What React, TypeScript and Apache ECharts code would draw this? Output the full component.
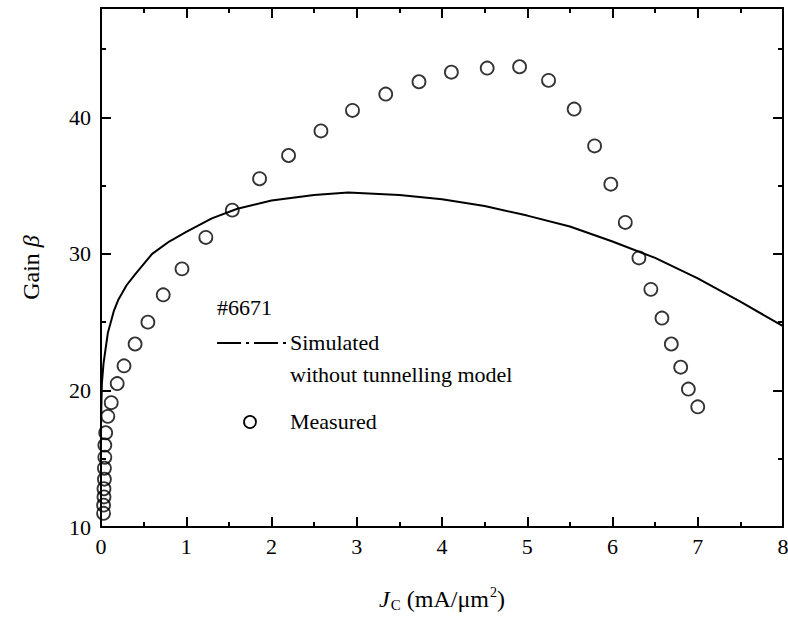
import React, { useEffect, useRef } from "react";
import * as echarts from "echarts";

const measuredX = [0.03, 0.03, 0.035, 0.035, 0.04, 0.04, 0.045, 0.045, 0.055, 0.08, 0.12, 0.19, 0.27, 0.4, 0.55, 0.73, 0.95, 1.23, 1.54, 1.86, 2.2, 2.58, 2.95, 3.34, 3.73, 4.11, 4.53, 4.91, 5.25, 5.55, 5.79, 5.98, 6.15, 6.31, 6.45, 6.58, 6.69, 6.8, 6.89, 7.0];
const measuredY = [11.0, 11.6, 12.2, 12.8, 13.5, 14.3, 15.1, 16.0, 16.9, 18.1, 19.1, 20.5, 21.8, 23.4, 25.0, 27.0, 28.9, 31.2, 33.2, 35.5, 37.2, 39.0, 40.5, 41.7, 42.6, 43.3, 43.6, 43.7, 42.7, 40.6, 37.9, 35.1, 32.3, 29.7, 27.4, 25.3, 23.4, 21.7, 20.1, 18.8];

const simX = [0.0, 0.01, 0.03, 0.08, 0.15, 0.2, 0.3, 0.4, 0.6, 0.8, 1.0, 1.3, 1.6, 2.0, 2.5, 2.9, 3.5, 4.0, 4.5, 5.0, 5.5, 6.0, 6.5, 7.0, 7.5, 8.0];
const simY = [17.5, 20.5, 22.0, 24.2, 25.8, 26.6, 27.7, 28.5, 30.0, 30.9, 31.6, 32.6, 33.3, 33.9, 34.3, 34.5, 34.3, 34.0, 33.5, 32.8, 32.0, 30.9, 29.7, 28.2, 26.5, 24.7];

const xMin = 0, xMax = 8, xStep = 1;
const yMin = 10, yMax = 48, yMajor = 10, yMinor = 5;

const FONT = "Liberation Serif";

export default function App() {
  const ref = useRef<HTMLDivElement>(null);
  useEffect(() => {
    if (!ref.current) return;
    const chart = echarts.init(ref.current, null, { renderer: "svg" });
    const lineStyle = { color: "#000", width: 2 };
    const baseY = (position: string, interval: number, len: number, labels: boolean, showLine: boolean) => ({
      type: "value",
      position,
      min: yMin,
      max: yMax,
      interval,
      axisLine: { show: showLine, lineStyle },
      axisTick: { show: true, inside: true, length: len, lineStyle },
      splitLine: { show: false },
      axisLabel: labels
        ? {
            show: true,
            fontFamily: FONT,
            fontSize: 22,
            color: "#000",
            margin: 10,
            formatter: (v: number) => (v % yMajor === 0 ? String(v) : ""),
          }
        : { show: false },
    });
    const option: any = {
      animation: false,
      backgroundColor: "#fff",
      grid: { left: 101, right: 5, top: 8, bottom: 106, outerBoundsMode: "none" },
      xAxis: [
        {
          type: "value",
          position: "bottom",
          min: xMin,
          max: xMax,
          interval: xStep,
          axisLine: { show: true, lineStyle },
          axisTick: { show: true, inside: true, length: 10, lineStyle },
          minorTick: { show: true, splitNumber: 2, length: 5, lineStyle },
          splitLine: { show: false },
          axisLabel: { fontFamily: FONT, fontSize: 22, color: "#000", margin: 8 },
          name: "{i|J}{sub|C}{n| (mA/μm}{sup|2}{n|)}",
          nameLocation: "middle",
          nameGap: 58,
          nameTextStyle: {
            rich: {
              i: { fontFamily: FONT, fontSize: 24, fontStyle: "italic", color: "#000" },
              n: { fontFamily: FONT, fontSize: 24, color: "#000" },
              sub: { fontFamily: FONT, fontSize: 15, color: "#000", padding: [12, 0, 0, 1] },
              sup: { fontFamily: FONT, fontSize: 14, color: "#000", padding: [0, 0, 14, 1] },
            },
          },
        },
        {
          type: "value",
          position: "top",
          min: xMin,
          max: xMax,
          interval: xStep,
          axisLine: { show: true, lineStyle },
          axisTick: { show: true, inside: true, length: 10, lineStyle },
          minorTick: { show: true, splitNumber: 2, length: 5, lineStyle },
          splitLine: { show: false },
          axisLabel: { show: false },
        },
      ],
      yAxis: [
        {
          ...baseY("left", yMajor, 10, true, true),
          name: "{a|Gain }{b|β}",
          nameLocation: "middle",
          nameGap: 58,
          nameRotate: 90,
          nameTextStyle: {
            rich: {
              a: { fontFamily: FONT, fontSize: 24, color: "#000" },
              b: { fontFamily: FONT, fontSize: 24, fontStyle: "italic", color: "#000" },
            },
          },
        },
        baseY("left", yMinor, 5, false, false),
        baseY("right", yMajor, 10, false, true),
        baseY("right", yMinor, 5, false, false),
      ],
      series: [
        {
          type: "line",
          xAxisIndex: 0,
          yAxisIndex: 0,
          data: simX.map((x, i) => [x, simY[i]]),
          showSymbol: false,
          lineStyle: { color: "#000", width: 2 },
          z: 2,
        },
        {
          type: "scatter",
          xAxisIndex: 0,
          yAxisIndex: 0,
          data: measuredX.map((x, i) => [x, measuredY[i]]),
          symbol: "circle",
          symbolSize: 13,
          itemStyle: { color: "rgba(255,255,255,0)", borderColor: "#000", borderWidth: 1.8 },
          z: 3,
        },
      ],
      graphic: [
        { type: "text", left: 217, top: 296, style: { text: "#6671", font: `22px "${FONT}"`, fill: "#000" } },
        {
          type: "line",
          shape: { x1: 217, y1: 343, x2: 286, y2: 343 },
          style: { stroke: "#000", lineWidth: 2, lineDash: [24, 5, 3, 5] },
        },
        { type: "text", left: 290, top: 331, style: { text: "Simulated", font: `22px "${FONT}"`, fill: "#000" } },
        { type: "text", left: 290, top: 363, style: { text: "without tunnelling model", font: `22px "${FONT}"`, fill: "#000" } },
        {
          type: "circle",
          shape: { cx: 250, cy: 422, r: 6 },
          style: { fill: "none", stroke: "#000", lineWidth: 1.8 },
        },
        { type: "text", left: 290, top: 410, style: { text: "Measured", font: `22px "${FONT}"`, fill: "#000" } },
      ],
    };
    chart.setOption(option);
    return () => chart.dispose();
  }, []);
  return (
    <div
      ref={ref}
      style={{ position: "fixed", left: 0, top: 0, width: 788, height: 633, background: "#fff" }}
    />
  );
}
